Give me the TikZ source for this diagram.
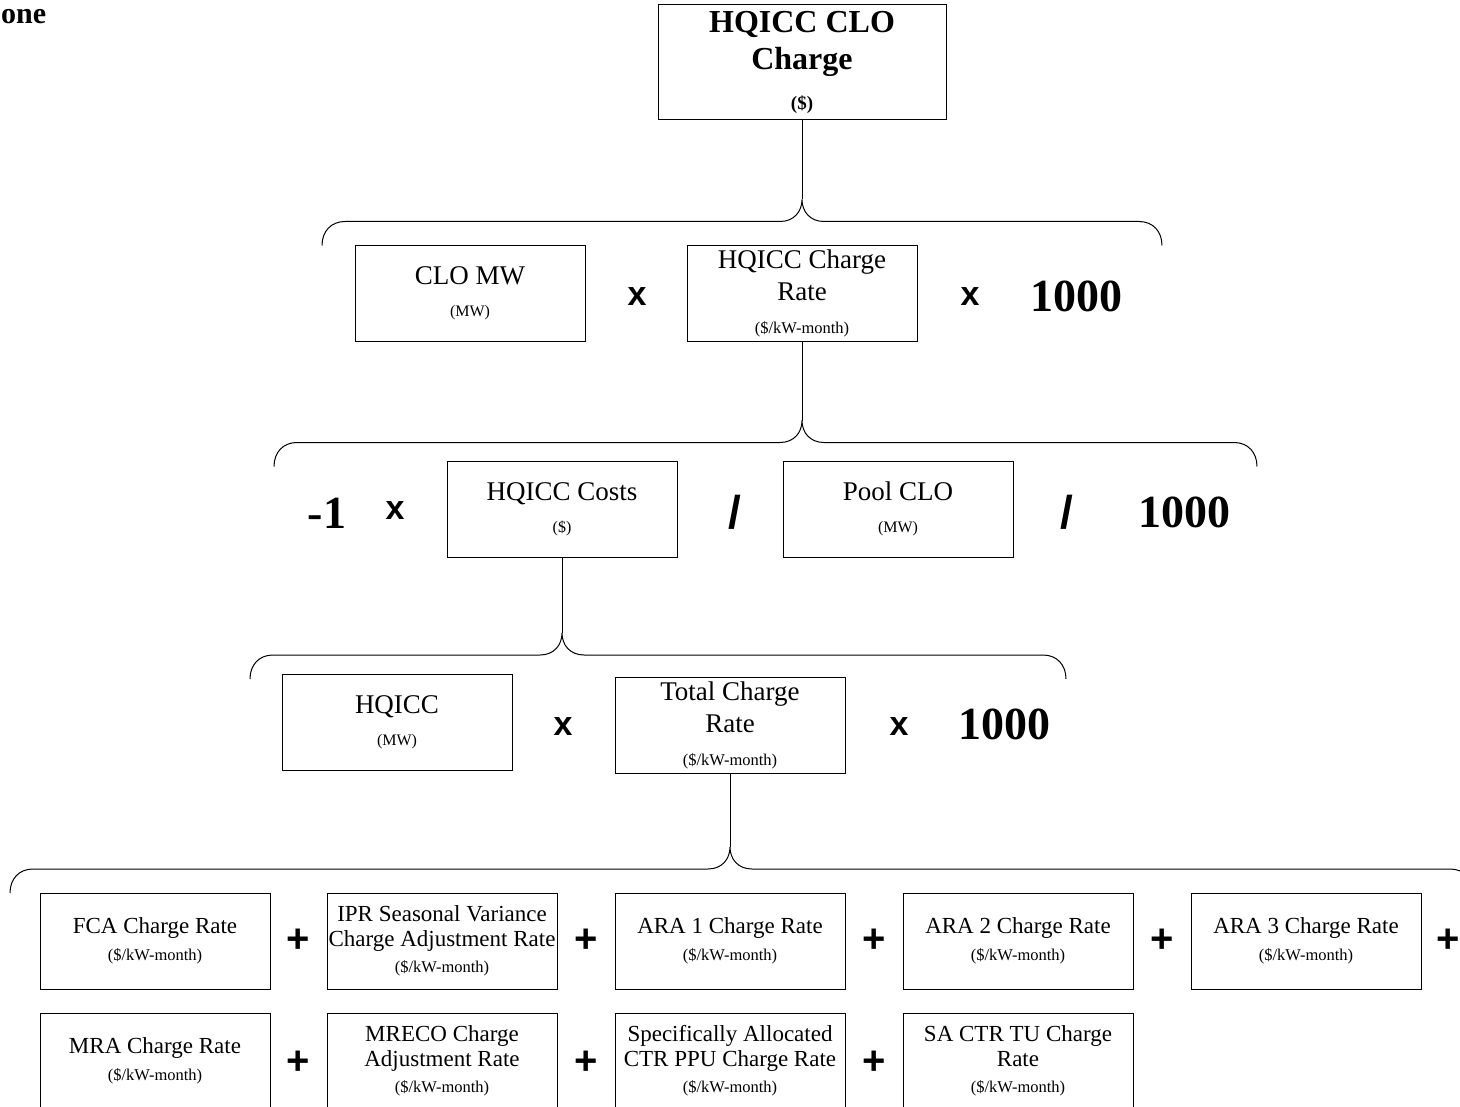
\documentclass[tikz,border=0pt]{standalone}
\usepackage{fontspec}
\setmainfont{Liberation Serif}
\newfontfamily\opfont{Liberation Sans}
\newcommand\utxt{\fontsize{16}{16}\selectfont}
\newcommand\usmall{\fontsize{16.5}{16.5}\selectfont}
\newcommand\mybrace[5]{%
  \draw[brace] (#1,#3+24) .. controls (#1,#3+10) and (#1+9,#3) .. (#1+23,#3)
    -- (#4-22,#3) .. controls (#4-8,#3) and (#4,#3-10) .. (#4,#3-22)
    .. controls (#4,#3-10) and (#4+8,#3) .. (#4+22,#3)
    -- (#2-23,#3) .. controls (#2-9,#3) and (#2,#3+10) .. (#2,#3+24);
  \coordinate (#5) at (#4,#3-22);}
\begin{document}
\begin{tikzpicture}[x=1pt,y=-1pt,
  box/.style={draw, line width=1pt, minimum width=230pt, minimum height=96pt,
    inner sep=0pt, align=center, font=\fontsize{27}{32}\selectfont},
  sbox/.style={box, font=\fontsize{23}{24.5}\selectfont},
  brace/.style={line width=1pt},
  op/.style={font=\opfont\bfseries\fontsize{34}{34}\selectfont, inner sep=0pt},
  plus/.style={font=\opfont\bfseries\fontsize{40}{40}\selectfont, inner sep=0pt},
  slash/.style={font=\opfont\bfseries\fontsize{46}{46}\selectfont, inner sep=0pt},
  big/.style={font=\bfseries\fontsize{46}{46}\selectfont, inner sep=0pt},
]
\useasboundingbox[fill=white] (0,0) rectangle (1460,1107);

\node[font=\bfseries\fontsize{30}{30}\selectfont, inner sep=0pt, anchor=base west] (zone) at (1,24) {one};

% level 0
\node[box, minimum width=288pt, minimum height=115pt, font=\bfseries\fontsize{32}{37}\selectfont] (top) at (802,62.5)
  {HQICC CLO\\Charge\\[3pt]{\bfseries\fontsize{19}{19}\selectfont (\$)}};
\mybrace{322}{1162}{221.5}{802}{t1}
\draw[brace] (top.south) -- (t1);

% level 1
\node[box] (clomw) at (470,293.5) {CLO MW\\{\utxt (MW)}};
\node[op] (x1) at (637,297) {x};
\node[box] (hqrate) at (802,293.5) {HQICC Charge\\Rate\\[1pt]{\usmall (\$/kW-month)}};
\node[op] (x2) at (970,297) {x};
\node[big] (k1) at (1076,296) {1000};
\mybrace{274}{1257}{442.5}{802}{t2}
\draw[brace] (hqrate.south) -- (t2);

% level 2
\node[big] (m1) at (327,513) {-1};
\node[op] (x3) at (395,511) {x};
\node[box] (costs) at (562,509) {HQICC Costs\\{\utxt (\$)}};
\node[slash] (d1) at (735,512) {/};
\node[box] (pool) at (898,509) {Pool CLO\\{\utxt (MW)}};
\node[slash] (d2) at (1067,512) {/};
\node[big] (k2) at (1184,512) {1000};
\mybrace{250}{1066}{655}{562}{t3}
\draw[brace] (costs.south) -- (t3);

% level 3
\node[box] (hqicc) at (397,722) {HQICC\\{\utxt (MW)}};
\node[op] (x4) at (563,727) {x};
\node[box] (total) at (730,725) {Total Charge\\Rate\\[1pt]{\usmall (\$/kW-month)}};
\node[op] (x5) at (899,727) {x};
\node[big] (k3) at (1004,724) {1000};
\mybrace{10}{1473}{869}{730}{t4}
\draw[brace] (total.south) -- (t4);

% level 4, row 1
\node[sbox] (fca) at (155,941) {FCA Charge Rate\\[2pt]{\usmall (\$/kW-month)}};
\node[plus] (p1) at (298,941) {+};
\node[sbox] (ipr) at (442,941) {IPR Seasonal Variance\\Charge Adjustment Rate\\[2pt]{\usmall (\$/kW-month)}};
\node[plus] (p2) at (586,941) {+};
\node[sbox] (ara1) at (730,941) {ARA 1 Charge Rate\\[2pt]{\usmall (\$/kW-month)}};
\node[plus] (p3) at (874,941) {+};
\node[sbox] (ara2) at (1018,941) {ARA 2 Charge Rate\\[2pt]{\usmall (\$/kW-month)}};
\node[plus] (p4) at (1162,941) {+};
\node[sbox] (ara3) at (1306,941) {ARA 3 Charge Rate\\[2pt]{\usmall (\$/kW-month)}};
\node[plus] (p5) at (1448,941) {+};

% level 4, row 2
\node[sbox] (mra) at (155,1061) {MRA Charge Rate\\[2pt]{\usmall (\$/kW-month)}};
\node[plus] (p6) at (298,1063) {+};
\node[sbox] (mreco) at (442,1061) {MRECO Charge\\Adjustment Rate\\[2pt]{\usmall (\$/kW-month)}};
\node[plus] (p7) at (586,1063) {+};
\node[sbox] (sactr) at (730,1061) {Specifically Allocated\\CTR PPU Charge Rate\\[2pt]{\usmall (\$/kW-month)}};
\node[plus] (p8) at (874,1063) {+};
\node[sbox] (satu) at (1018,1061) {SA CTR TU Charge\\Rate\\[2pt]{\usmall (\$/kW-month)}};
\end{tikzpicture}
\end{document}
